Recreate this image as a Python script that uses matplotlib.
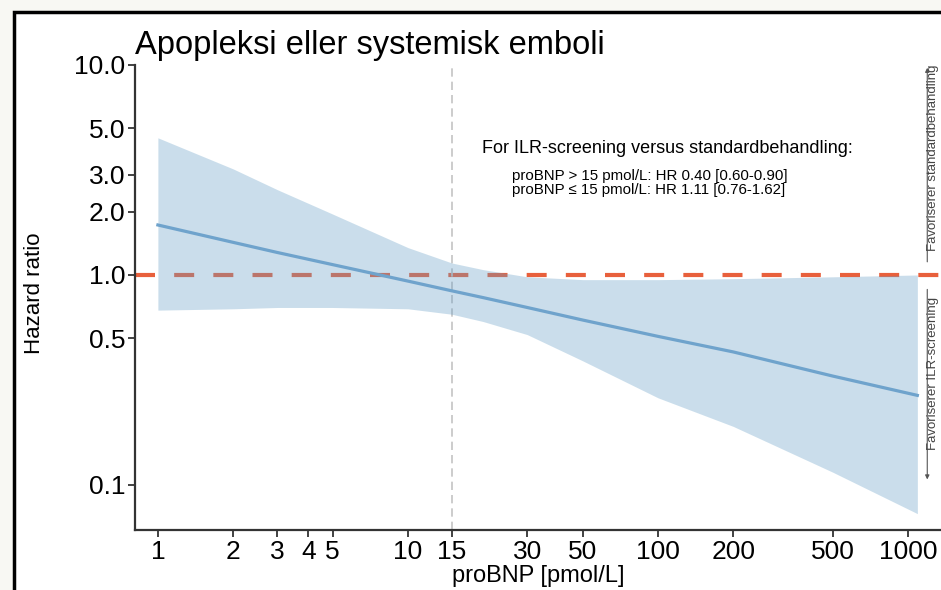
import matplotlib
matplotlib.use('Agg')
import matplotlib.pyplot as plt
from matplotlib.patches import Rectangle

plt.rcParams['font.family'] = ['Liberation Sans', 'DejaVu Sans']

# Data (proBNP in pmol/L, hazard ratio)
probnp = [1, 2, 3, 5, 10, 15, 20, 30, 50, 100, 200, 500, 1090]
hr = [1.73, 1.43, 1.28, 1.12, 0.935, 0.84, 0.78, 0.70, 0.61, 0.51, 0.43, 0.33, 0.267]
hr_upper = [4.5, 3.2, 2.55, 1.95, 1.35, 1.14, 1.06, 0.98, 0.95, 0.95, 0.96, 0.98, 1.0]
hr_lower = [0.68, 0.69, 0.70, 0.70, 0.69, 0.65, 0.60, 0.52, 0.39, 0.26, 0.19, 0.115, 0.073]

x_ticks = [1, 2, 3, 4, 5, 10, 15, 30, 50, 100, 200, 500, 1000]
y_ticks = [0.1, 0.5, 1.0, 2.0, 3.0, 5.0, 10.0]
y_labels = ['0.1', '0.5', '1.0', '2.0', '3.0', '5.0', '10.0']
cutoff = 15

fig = plt.figure(figsize=(9.41, 5.90), dpi=100)
fig.patch.set_facecolor('#f8f8f3')

# black frame around the panel (cropped on right and bottom)
frame = Rectangle((14 / 941, -0.05), 1.1, 1 - 12 / 590 + 0.05, transform=fig.transFigure,
                  facecolor='white', edgecolor='black', linewidth=2.5, zorder=-5)
fig.patches.append(frame)

ax = fig.add_axes([135 / 941, 60 / 590, (941 - 135) / 941, (530 - 65) / 590])
ax.set_zorder(2)
ax.set_xscale('log')
ax.set_yscale('log')
ax.set_facecolor('none')

# reference line and cutoff
ax.axhline(1.0, color='#e8603c', linewidth=3, dashes=(4.8, 4.6), zorder=1)
ax.axvline(cutoff, color='#c4c4c4', linewidth=1.2, dashes=(5, 3), zorder=1)

# confidence band and estimate
ax.fill_between(probnp, hr_lower, hr_upper, color='#659ec6', alpha=0.34, linewidth=0, zorder=2)
ax.plot(probnp, hr, color='#6fa3cc', linewidth=2.3, zorder=3)

ax.set_xlim(0.81, 1355)
ax.set_ylim(0.061, 10)

ax.set_xticks(x_ticks)
ax.set_xticklabels([str(t) for t in x_ticks])
ax.set_yticks(y_ticks)
ax.set_yticklabels(y_labels)
ax.minorticks_off()
ax.tick_params(axis='both', labelsize=19, length=5, width=1.3, color='#333333', pad=2)

for s in ['top', 'right']:
    ax.spines[s].set_visible(False)
for s in ['left', 'bottom']:
    ax.spines[s].set_linewidth(1.6)
    ax.spines[s].set_color('#333333')

ax.set_xlabel('proBNP [pmol/L]', fontsize=17, labelpad=1)
ax.set_ylabel('Hazard ratio', fontsize=16)
ax.yaxis.set_label_coords(-0.112, 0.51)

fig.text(135 / 941, 1 - 54 / 590, 'Apopleksi eller systemisk emboli', fontsize=23.5,
         ha='left', va='baseline')

# annotation with estimates
ax.text(0.661, 0.8215, 'For ILR-screening versus standardbehandling:', transform=ax.transAxes,
        fontsize=13, ha='center', va='center')
ax.text(0.4677, 0.776, 'proBNP > 15 pmol/L: HR 0.40 [0.60-0.90]\nproBNP \u2264 15 pmol/L: HR 1.11 [0.76-1.62]',
        transform=ax.transAxes, fontsize=10.8, ha='left', va='top', linespacing=0.95)

# side arrows
arr = dict(arrowstyle='-|>', color='#555555', linewidth=0.8, mutation_scale=6)
ax.annotate('', xy=(1194, 10), xytext=(1194, 1.12), arrowprops=arr, annotation_clip=False)
ax.annotate('', xy=(1194, 0.103), xytext=(1194, 0.88), arrowprops=arr, annotation_clip=False)
ax.text(1262, 3.6, 'Favoriserer standardbehandling', rotation=90, fontsize=9.5,
        color='#444444', ha='center', va='center')
ax.text(1262, 0.34, 'Favoriserer ILR-screening', rotation=90, fontsize=9.5,
        color='#444444', ha='center', va='center')

fig.savefig('out.png', dpi=100, facecolor=fig.get_facecolor())
